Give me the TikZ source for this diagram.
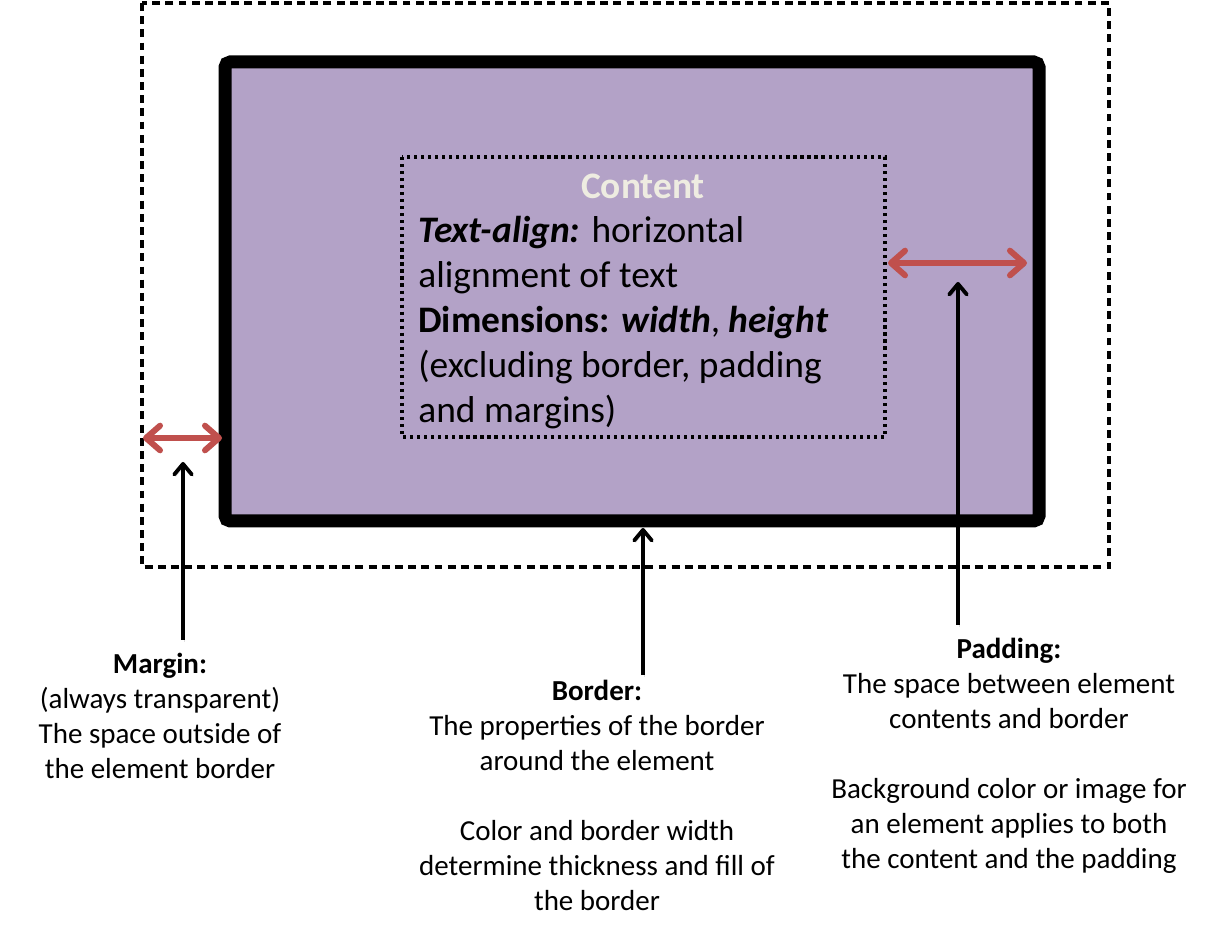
\documentclass[tikz,border=0pt]{standalone}
\usepackage{fontspec}
\setmainfont{Carlito}
\usetikzlibrary{arrows.meta}
\definecolor{boxpurple}{HTML}{B3A2C7}
\definecolor{arrowred}{HTML}{C0504D}
\definecolor{titlecream}{HTML}{EEECE1}

\begin{document}
\begin{tikzpicture}[x=0.02cm, y=-0.02cm,
	redarrow/.style={arrowred, line width=3.4pt, {Straight Barb[length=8pt,width=14pt,round]}-{Straight Barb[length=8pt,width=14pt,round]},
		preaction={draw=black, opacity=0.2, transform canvas={shift={(0.8pt,-1.2pt)}}}},
	pointer/.style={line width=2.2pt, -{Straight Barb[length=6pt,width=10pt,round]},
		preaction={draw=black, opacity=0.12, transform canvas={shift={(0.8pt,-1.2pt)}}}},
	notetext/.style={align=center, inner sep=0pt, anchor=north, font=\fontsize{16.5}{19.9}\selectfont},
	bodytext/.style={align=left, inner sep=0pt, font=\fontsize{21.3}{25.6}\selectfont}]
		\useasboundingbox (0,0) rectangle (1214,935);
		%%
		\draw[line width=2pt, dash pattern=on 4.5pt off 3pt] (142,3) rectangle (1109,567);
		\draw[line width=7.4pt, fill=boxpurple, rounded corners=3pt] (225,62) rectangle (1039,521);
		\draw[line width=1.8pt, dash pattern=on 1.8pt off 2.2pt] (402,157) rectangle (885,437);
		%%
		\node[bodytext, text=titlecream, font=\fontsize{21.3}{25.6}\selectfont\bfseries] (content) at (643,186) {Content};
		\node[bodytext, anchor=north west] (contentbody) at (418,216)
			{\textbf{\textit{Text-align:}} horizontal\\
			alignment of text\\
			\textbf{Dimensions: \textit{width}}, \textbf{\textit{height}}\\
			(excluding border, padding\\
			and margins)};
		%%
		\coordinate (margin out) at (143,438);
		\coordinate (margin in) at (222,438);
		\coordinate (padding in) at (888,263);
		\coordinate (padding out) at (1027,263);
		\draw[redarrow] (margin out) -- (margin in);
		\draw[redarrow] (padding in) -- (padding out);
		%%
		\node[notetext] (margin) at (160,653)
			{\textbf{Margin:}\\(always transparent)\\The space outside of\\the element border};
		\node[notetext] (border) at (597,680)
			{\textbf{Border:}\\The properties of the border\\around the element\\[19.9pt]
			Color and border width\\determine thickness and fill of\\the border};
		\node[notetext] (padding) at (1009,638)
			{\textbf{Padding:}\\The space between element\\contents and border\\[19.9pt]
			Background color or image for\\an element applies to both\\the content and the padding};
		%%
		\coordinate (margin tail) at (183,640);
		\coordinate (margin tip) at (183,462);
		\coordinate (border tail) at (643,675);
		\coordinate (border tip) at (643,528);
		\coordinate (padding tail) at (958,625);
		\coordinate (padding tip) at (958,282);
		\draw[pointer] (margin tail) -- (margin tip);
		\draw[pointer] (border tail) -- (border tip);
		\draw[pointer] (padding tail) -- (padding tip);
	\end{tikzpicture}
\end{document}
